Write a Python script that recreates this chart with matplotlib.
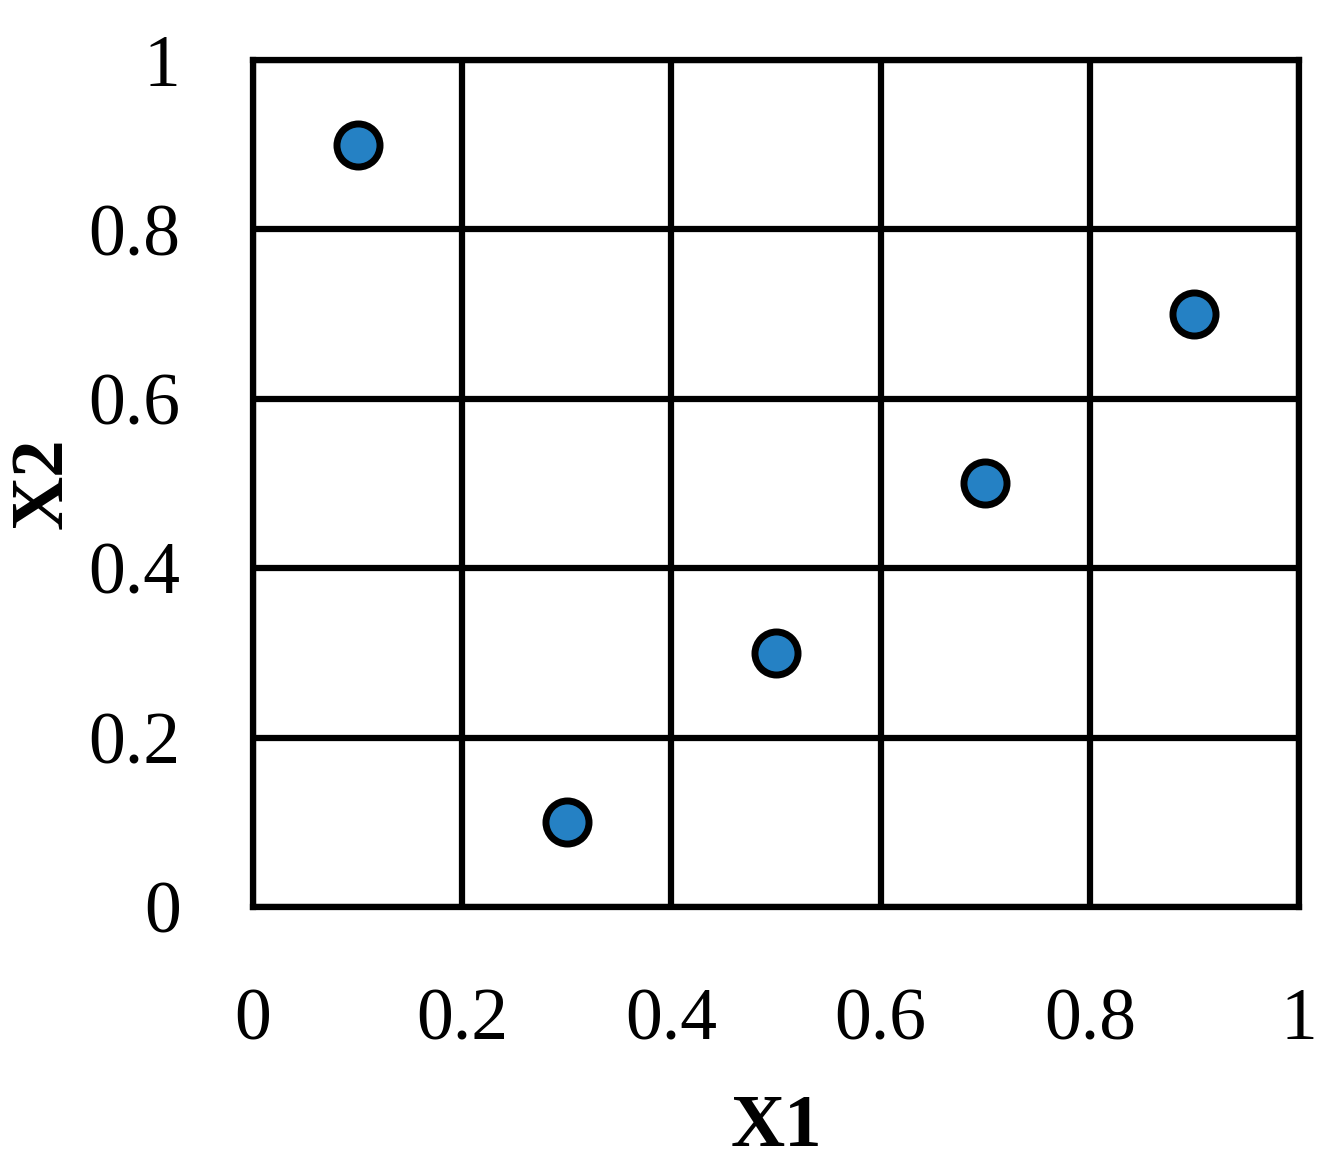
import matplotlib.pyplot as plt
import numpy as np

x1 = [0.1, 0.3, 0.5, 0.7, 0.9]
x2 = [0.9, 0.1, 0.3, 0.5, 0.7]
ticks = [0, 0.2, 0.4, 0.6, 0.8, 1]
tick_labels = ['0', '0.2', '0.4', '0.6', '0.8', '1']

plt.rcParams['font.family'] = ['Liberation Serif', 'DejaVu Serif']

fig = plt.figure(figsize=(13.31, 11.68), dpi=100)
ax = fig.add_axes([0.190, 0.2235, 0.786, 0.7251])

ax.plot(x1, x2, 'o', markersize=31, markerfacecolor='#2581C4',
        markeredgecolor='black', markeredgewidth=5, zorder=5, clip_on=False)

ax.set_xlim(0, 1)
ax.set_ylim(0, 1)
ax.set_xticks(ticks)
ax.set_yticks(ticks)
ax.set_xticklabels(tick_labels)
ax.set_yticklabels(tick_labels)
ax.tick_params(length=0, labelsize=53)
ax.tick_params(axis='x', pad=58)
ax.tick_params(axis='y', pad=52)
ax.grid(True, color='black', linewidth=4.5)
for s in ax.spines.values():
    s.set_linewidth(4.5)

ax.set_xlabel('X1', fontsize=54, fontweight='bold', labelpad=28)
ax.set_ylabel('X2', fontsize=54, fontweight='bold', labelpad=8)

fig.savefig('out.png', dpi=100)
